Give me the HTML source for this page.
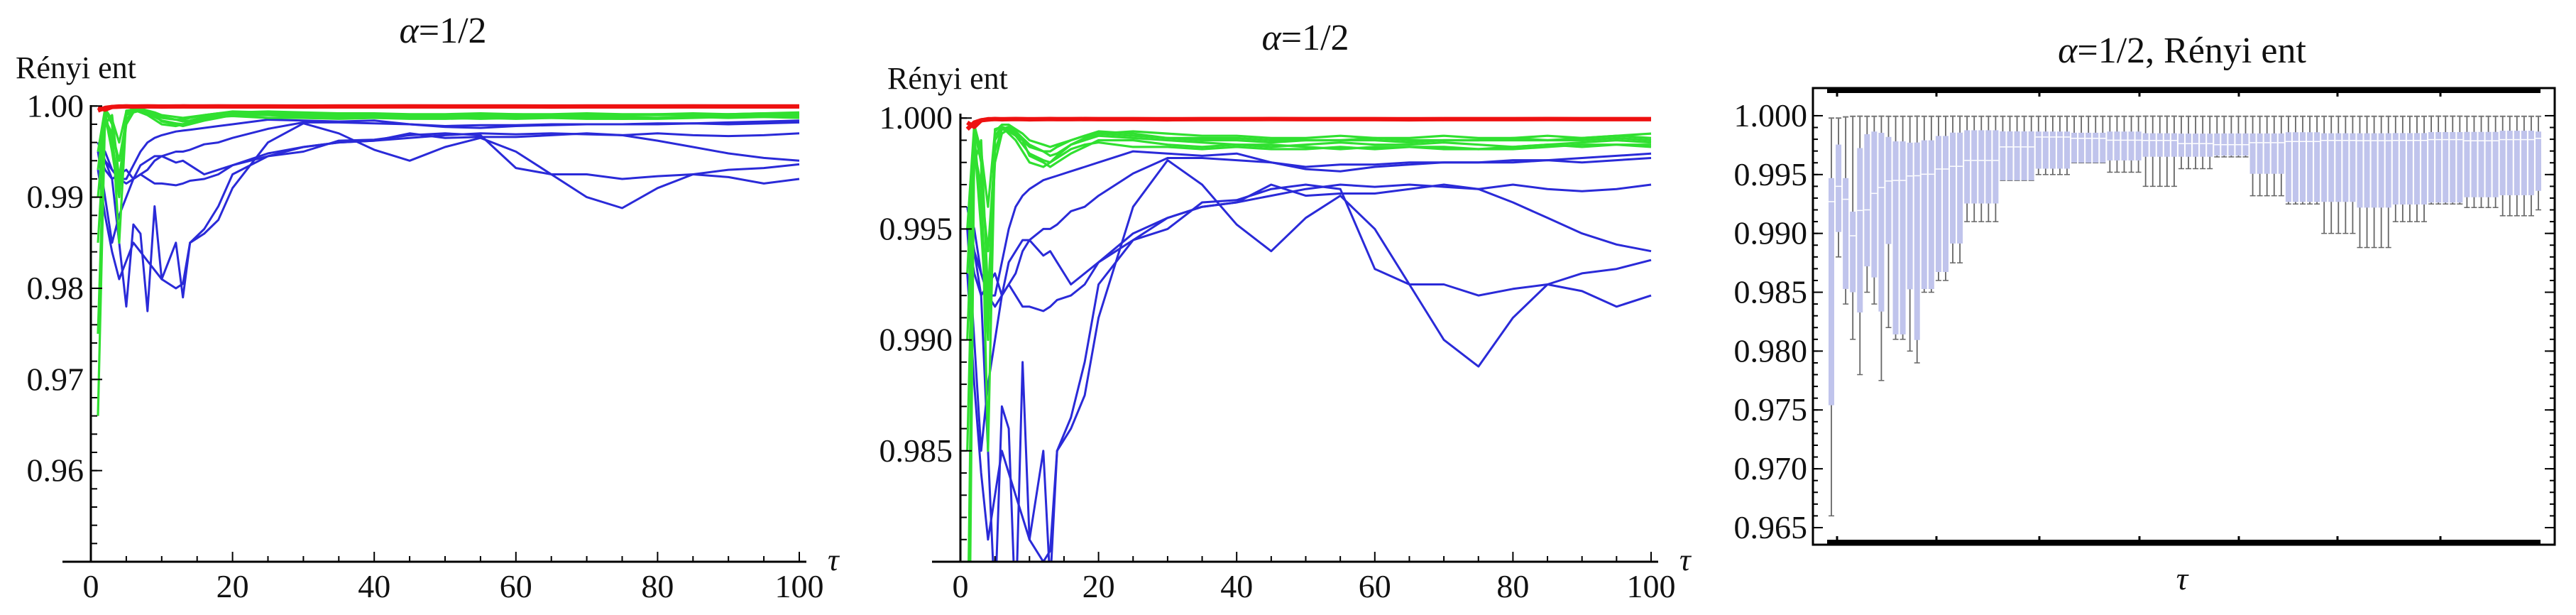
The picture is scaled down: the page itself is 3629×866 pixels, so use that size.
<!DOCTYPE html>
<html><head><meta charset="utf-8"><style>
html,body{margin:0;padding:0;background:#fff;width:3629px;height:866px;overflow:hidden;}
svg{display:block;font-family:"Liberation Serif",serif;}
</style></head><body>
<svg id="fig" width="3629" height="866" viewBox="0 0 3629 866" xmlns="http://www.w3.org/2000/svg"></svg>
<script>
const T = [1,2,3,4,5,6,7,8,9,10,12,13,14,16,18,20,25,30,35,40,45,50,55,60,65,70,75,80,85,90,95,100];
const blue1 = [0.996,0.994,0.993,0.992,0.992,0.9935,0.995,0.996,0.9965,0.9968,0.9972,0.9973,0.9974,0.9976,0.9978,0.998,0.9985,0.9984,0.9983,0.9984,0.998,0.9977,0.9976,0.9978,0.9979,0.998,0.998,0.9981,0.9981,0.9982,0.9983,0.9984];
const blue2 = [0.995,0.99,0.985,0.988,0.990,0.992,0.9935,0.994,0.9945,0.9945,0.995,0.995,0.9952,0.9958,0.996,0.9965,0.9975,0.9982,0.9982,0.9981,0.998,0.9978,0.9979,0.9979,0.998,0.998,0.998,0.998,0.9981,0.998,0.9981,0.9982];
const blue3 = [0.993,0.988,0.984,0.981,0.983,0.985,0.984,0.983,0.982,0.981,0.980,0.9805,0.985,0.986,0.9875,0.991,0.996,0.9981,0.997,0.9952,0.994,0.9955,0.9965,0.995,0.9925,0.990,0.9888,0.991,0.9925,0.993,0.9932,0.9936];
const blue4 = [0.996,0.995,0.993,0.992,0.9915,0.992,0.9925,0.992,0.9915,0.9915,0.9913,0.9915,0.9918,0.992,0.9925,0.9935,0.9945,0.995,0.9962,0.9963,0.9968,0.997,0.9968,0.9932,0.9925,0.9925,0.992,0.9923,0.9925,0.9922,0.9915,0.992];
const blue5 = [0.995,0.993,0.992,0.9925,0.993,0.992,0.9925,0.993,0.994,0.9945,0.9938,0.994,0.9935,0.9925,0.993,0.9935,0.9948,0.9955,0.996,0.9962,0.997,0.9965,0.9966,0.9966,0.9968,0.997,0.9968,0.9962,0.9955,0.9948,0.9943,0.994];
const blue6 = [0.996,0.994,0.992,0.985,0.978,0.987,0.986,0.9775,0.989,0.981,0.985,0.979,0.985,0.9865,0.989,0.9925,0.9945,0.9955,0.996,0.9962,0.9965,0.9968,0.997,0.9969,0.997,0.9969,0.9968,0.997,0.9968,0.9967,0.9968,0.997];
const green1 = [0.966,0.999,0.995,0.990,0.9995,0.9996,0.9993,0.999,0.9985,0.998,0.9978,0.998,0.9983,0.9988,0.999,0.9992,0.9991,0.999,0.9989,0.9988,0.9987,0.9988,0.9989,0.9988,0.9988,0.9989,0.9988,0.9987,0.9988,0.9989,0.999,0.9989];
const green2 = [0.975,0.9995,0.998,0.985,0.999,0.9995,0.9994,0.9992,0.999,0.9987,0.9985,0.9985,0.9987,0.999,0.9992,0.9994,0.9993,0.9991,0.999,0.999,0.9989,0.999,0.999,0.9991,0.999,0.999,0.999,0.9991,0.999,0.9991,0.9992,0.9991];
const green3 = [0.985,0.998,0.999,0.992,0.998,0.9993,0.9995,0.9993,0.999,0.9983,0.998,0.9978,0.998,0.9984,0.9987,0.999,0.999,0.9988,0.9987,0.9988,0.9988,0.9987,0.9986,0.9987,0.9987,0.9986,0.9986,0.9987,0.9988,0.9987,0.9988,0.9988];
const green4 = [0.99,0.9985,0.997,0.994,0.9985,0.9995,0.9996,0.9994,0.9991,0.9988,0.9985,0.9983,0.9984,0.9988,0.9991,0.9993,0.9994,0.9993,0.9992,0.9992,0.9991,0.9991,0.9992,0.9991,0.9991,0.9992,0.9991,0.9991,0.9992,0.9991,0.9992,0.9993];
const green5 = [0.993,0.9992,0.996,0.991,0.9992,0.9996,0.9995,0.9992,0.9988,0.9984,0.9981,0.998,0.9982,0.9986,0.9988,0.9989,0.9987,0.9987,0.9986,0.9987,0.9986,0.9986,0.9987,0.9986,0.9987,0.9987,0.9986,0.9986,0.9987,0.9988,0.9988,0.9987];
const green6 = [0.995,0.9997,0.9985,0.996,0.9994,0.9997,0.9997,0.9995,0.9993,0.999,0.9988,0.9987,0.9988,0.999,0.9992,0.9993,0.9992,0.9991,0.9991,0.9991,0.999,0.999,0.999,0.999,0.9989,0.999,0.999,0.999,0.999,0.999,0.9991,0.999];
const red1 = [0.9995,0.9998,0.9999,0.99995,0.99995,0.99995,0.99995,0.99995,0.99995,0.99995,0.99995,0.99995,0.99995,0.99995,0.99995,0.99995,0.99995,0.99995,0.99995,0.99995,0.99995,0.99995,0.99995,0.99995,0.99995,0.99995,0.99995,0.99995,0.99995,0.99995,0.99995,0.99995];
const red2 = [0.9998,0.9996,0.9999,0.99993,0.99996,0.99994,0.99995,0.99996,0.99995,0.99994,0.99995,0.99996,0.99995,0.99995,0.99996,0.99995,0.99995,0.99994,0.99995,0.99995,0.99996,0.99995,0.99995,0.99995,0.99994,0.99995,0.99995,0.99995,0.99996,0.99995,0.99995,0.99995];
const ticks1X = [0,20,40,60,80,100];
const ticks1Y = ["0.96","0.97","0.98","0.99","1.00"];
const ticks2Y = ["0.985","0.990","0.995","1.000"];
const ticks3Y = ["0.965","0.970","0.975","0.980","0.985","0.990","0.995","1.000"];

const blues=[blue1,blue2,blue3,blue4,blue5,blue6];
const greens=[green1,green2,green3,green4,green5,green6];
const reds=[red1,red2];
const NS="http://www.w3.org/2000/svg";
const svg=document.getElementById('fig');
function mk(tag,attrs,parent){const e=document.createElementNS(NS,tag);for(const k in attrs)e.setAttribute(k,attrs[k]);(parent||svg).appendChild(e);return e;}
function txt(s,x,y,size,anchor,parent,italic){const e=mk('text',{x:x,y:y,'font-size':size,'text-anchor':anchor||'middle',fill:'#111'},parent);if(italic)e.setAttribute('font-style','italic');e.textContent=s;return e;}

function linePanel(name,x0,x1,yTop,yBot,vmin,vmax,yTicks,minorStep,titleX,titleY,ylabX,ylabY,tickLabRight){
  const g=mk('g',{},svg);
  
  
  const sx=t=>x0+(t-0)/(100-0)*(x1-x0);
  const sy=v=>yBot-(v-vmin)/(vmax-vmin)*(yBot-yTop);
  const clip=mk('clipPath',{id:name+'-clip'},g);
  mk('rect',{x:x0-2,y:yTop-8,width:x1-x0+10,height:yBot-yTop+8},clip);
  const tt=mk('text',{x:titleX,y:titleY,'font-size':52,'text-anchor':'middle',fill:'#111'},g);
  
  
  const a=mk('tspan',{'font-style':'italic'},tt);a.textContent='α';
  const b=mk('tspan',{},tt);b.textContent='=1/2';
  const yl=txt('Rényi ent',ylabX,ylabY,44,'start',g);
  
  
  const series=mk('g',{'clip-path':'url(#'+name+'-clip)',fill:'none','stroke-linejoin':'round'},g);
  
  
  function draw(arr,color,w,nm){
    const p=mk('polyline',{points:arr.map((v,i)=>sx(T[i]).toFixed(1)+','+sy(v).toFixed(1)).join(' '),stroke:color,'stroke-width':w},series);
    
    
  }
  blues.forEach((s,i)=>draw(s,'#2a2ad8',3,'blue-line-'+(i+1)));
  greens.forEach((s,i)=>draw(s,'#30e030',3.2,'green-line-'+(i+1)));
  reds.forEach((s,i)=>draw(s,'#ee1111',6,'red-line-'+(i+1)));
  const ax=mk('line',{x1:x0-40,y1:yBot,x2:x1+10,y2:yBot,stroke:'#000','stroke-width':3},g);
  
  
  const ay=mk('line',{x1:x0,y1:yBot,x2:x0,y2:yTop,stroke:'#000','stroke-width':3},g);
  
  
  for(let t=0;t<=100;t+=5){const major=t%20===0;mk('line',{x1:sx(t),y1:yBot,x2:sx(t),y2:yBot-(major?14:8),stroke:'#000','stroke-width':2},g);}
  ticks1X.forEach(t=>{const e=txt(String(t),sx(t),yBot+50,46,'middle',g);});
  for(let v=vmin;v<=vmax+1e-9;v+=minorStep){mk('line',{x1:x0,y1:sy(v),x2:x0+9,y2:sy(v),stroke:'#000','stroke-width':2},g);}
  yTicks.forEach(s=>{const v=parseFloat(s);mk('line',{x1:x0,y1:sy(v),x2:x0+16,y2:sy(v),stroke:'#000','stroke-width':2},g);
    const e=txt(s,tickLabRight,sy(v)+15,46,'end',g);});
  const tau=txt('τ',x1+40,yBot+12,44,'start',g,true);
  
  
}
linePanel('panel-1',128,1126,148,791,0.95,1.0001,ticks1Y,0.002,624,60,22,110,118);
linePanel('panel-2',1353,2326,160,791,0.98,1.0002,ticks2Y,0.001,1839,70,1250,125,1342);

(function(){
  const g=mk('g',{},svg);
  
  
  const L=2554,R=3599,TOP=124,BOT=767;
  const vmin=0.96355,vmax=1.00235;
  const sy=v=>BOT-(v-vmin)/(vmax-vmin)*(BOT-TOP);
  const sx=t=>2580+(t-1)/99*(3576-2580);
  const tt=mk('text',{x:3074,y:88,'font-size':52,'text-anchor':'middle',fill:'#111'},g);
  
  
  const a=mk('tspan',{'font-style':'italic'},tt);a.textContent='α';
  const b=mk('tspan',{},tt);b.textContent='=1/2, Rényi ent';
  const all=blues.concat(greens,reds);
  const q=(arr,p)=>{const s=arr.slice().sort((x,y)=>x-y);const i=p*(s.length-1);const lo=Math.floor(i),hi=Math.ceil(i);return s[lo]+(s[hi]-s[lo])*(i-lo);};
  const w=8;
  for(let t=1;t<=100;t++){
    let i=0; while(i<T.length-1 && T[i+1]<=t) i++;
    const vals=all.map(s=>s[i]);
    const mn=Math.min(...vals),mx=Math.max(...vals),q1=q(vals,0.08),q3=q(vals,0.45),md=q(vals,0.3);
    const cx=sx(t)-w/2;
    const bx=mk('g',{},g);
    
    
    mk('line',{x1:cx+w/2,y1:sy(mx),x2:cx+w/2,y2:sy(mn),stroke:'#666','stroke-width':1.8},bx);
    mk('line',{x1:cx,y1:sy(mn),x2:cx+w,y2:sy(mn),stroke:'#666','stroke-width':1.5},bx);
    mk('rect',{x:cx,y:sy(q3),width:w,height:Math.max(1,sy(q1)-sy(q3)),fill:'#c0c4ec'},bx);
    mk('line',{x1:cx,y1:sy(md),x2:cx+w,y2:sy(md),stroke:'#fff','stroke-width':1.5},bx);
    mk('line',{x1:cx,y1:sy(mx),x2:cx+w,y2:sy(mx),stroke:'#777','stroke-width':2},bx);
  }
  const fr=mk('rect',{x:L,y:TOP,width:R-L,height:BOT-TOP,fill:'none',stroke:'#000','stroke-width':3},g);
  
  
  mk('rect',{x:L+20,y:TOP,width:R-L-40,height:7,fill:'#000'},g);
  mk('rect',{x:L+20,y:BOT-7,width:R-L-40,height:7,fill:'#000'},g);
  [2588,2728,2873,3014,3154,3293,3438].forEach(x=>{mk('line',{x1:x,y1:TOP,x2:x,y2:TOP+12,stroke:'#000','stroke-width':3},g);mk('line',{x1:x,y1:BOT,x2:x,y2:BOT-12,stroke:'#000','stroke-width':3},g);});
  for(let v=0.965;v<=1.0001;v+=0.001){const y=sy(v);mk('line',{x1:L,y1:y,x2:L+7,y2:y,stroke:'#000','stroke-width':2},g);mk('line',{x1:R,y1:y,x2:R-7,y2:y,stroke:'#000','stroke-width':2},g);}
  ticks3Y.forEach(s=>{const y=sy(parseFloat(s));mk('line',{x1:L,y1:y,x2:L+14,y2:y,stroke:'#000','stroke-width':2},g);mk('line',{x1:R,y1:y,x2:R-14,y2:y,stroke:'#000','stroke-width':2},g);
    const e=txt(s,L-8,y+15,46,'end',g);});
  const tau=txt('τ',3074,830,46,'middle',g,true);
  
  
})();
</script>
</body></html>
